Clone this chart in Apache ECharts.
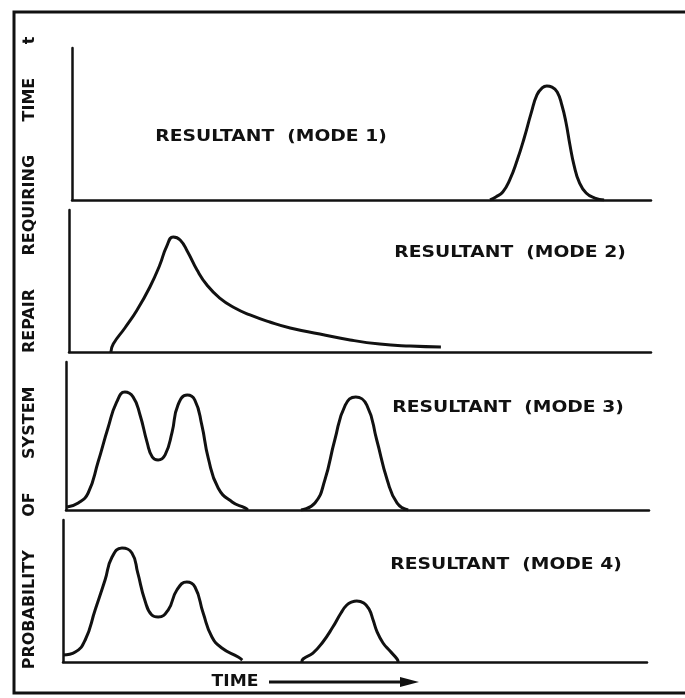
<!DOCTYPE html>
<html>
<head>
<meta charset="utf-8">
<script src="https://cdn.jsdelivr.net/npm/echarts@6/dist/echarts.min.js"></script>
<style>
  html, body { margin: 0; padding: 0; background: #fff; }
  #chart { width: 685px; height: 698px; }
</style>
</head>
<body>
<div id="chart"></div>
<script>
// values: [time, probability], time 0-100 along each panel, probability 0-100 of panel height
const mode1 = [[72.2, 0], [73.2, 2.0], [74.4, 5.3], [75.6, 13.2], [76.9, 26.3], [78.1, 40.8], [79.3, 57.2],
  [80.3, 69.1], [81.2, 73.7], [82.0, 75.0], [82.9, 74.3], [83.8, 71.1], [84.6, 62.5], [85.3, 51.3],
  [86.0, 36.2], [86.7, 23.0], [87.6, 11.8], [88.8, 4.6], [90.3, 1.3], [91.9, 0]]

const mode2 = [[7.2, 0], [7.6, 5.6], [9.6, 16.9], [11.7, 29.6], [13.9, 45.8], [15.6, 61.3], [16.8, 74.6],
  [17.9, 81.0], [19.1, 78.9], [20.4, 70.4], [22.0, 57.7], [23.7, 47.2], [25.9, 38.0], [28.5, 31.0],
  [31.1, 26.1], [34.5, 21.1], [38.0, 16.9], [43.1, 12.7], [48.3, 8.5], [53.4, 5.6], [58.6, 4.2], [63.9, 3.5]]

const mode3 = [[0.2, 2.0], [2.1, 4.7], [3.8, 11.5], [5.5, 32.4], [7.2, 55.4], [8.7, 73.0], [10.1, 79.7], [11.5, 76.4],
  [12.7, 64.2], [13.9, 45.9], [14.8, 35.8], [15.8, 33.8], [17.0, 37.2], [18.2, 52.7], [19.2, 70.9], [20.8, 77.7],
  [22.1, 74.3], [23.3, 57.4], [24.4, 35.1], [26.1, 14.9], [28.5, 5.4], [30.7, 1.4], [31.2, 0],
  null,
  [40.3, 0], [42.7, 4.7], [44.4, 20.3], [46.1, 47.3], [47.9, 70.9], [49.7, 76.4], [51.6, 70.9], [53.3, 47.3],
  [55.1, 20.3], [56.8, 4.7], [58.7, 0]]

const mode4 = [[0, 4.9], [2.1, 7.0], [3.8, 15.5], [5.5, 36.6], [7.2, 57.7], [8.4, 73.9], [10.1, 80.3], [11.8, 76.8],
  [12.8, 62.7], [14.0, 43.7], [15.2, 33.1], [16.3, 31.7], [18.0, 36.6], [19.5, 50.7], [21.2, 56.3], [22.6, 52.8],
  [24.0, 34.5], [25.5, 17.6], [27.2, 9.9], [30.0, 3.5], [30.7, 1.4],
  null,
  [40.9, 0], [41.1, 2.1], [42.8, 6.3], [44.5, 14.1], [46.2, 24.6], [47.6, 34.5], [48.6, 40.1], [49.5, 42.3],
  [50.3, 43.0], [51.5, 41.5], [52.4, 37.3], [53.1, 29.6], [53.8, 21.1], [54.8, 13.4], [56.0, 7.7], [57.2, 2.1], [57.4, 0]]

const modeNames = ['RESULTANT  (MODE 1)', 'RESULTANT  (MODE 2)', 'RESULTANT  (MODE 3)', 'RESULTANT  (MODE 4)']
const yTitle = 'PROBABILITY      OF      SYSTEM      REPAIR      REQUIRING      TIME      t'
const xTitle = 'TIME'

const ink = '#111'
const font = 'DejaVu Sans'

// panel boxes (px) - the scan is a little skewed so each panel sits slightly differently
const grids = [
  { left: 72, right: 34, top: 48, bottom: 498 },
  { left: 69, right: 34, top: 210, bottom: 346 },
  { left: 66, right: 36, top: 362, bottom: 188 },
  { left: 63, right: 38, top: 520, bottom: 36 }
]
const labelPos = [[271, 137], [510, 253], [508, 408], [506, 565]]

const chart = echarts.init(document.getElementById('chart'))

const axisStyle = { show: true, lineStyle: { color: ink, width: 2.5 } }
const plainAxis = (i) => ({
  type: 'value', gridIndex: i, min: 0, max: 100,
  axisLine: axisStyle, axisTick: { show: false }, axisLabel: { show: false }, splitLine: { show: false }
})

const option = {
  backgroundColor: '#fff',
  animation: false,
  grid: grids,
  xAxis: grids.map((g, i) => plainAxis(i)),
  yAxis: grids.map((g, i) => plainAxis(i)),
  series: [mode1, mode2, mode3, mode4].map((d, i) => ({
    type: 'line',
    xAxisIndex: i,
    yAxisIndex: i,
    data: d,
    smooth: 0.5,
    symbol: 'none',
    connectNulls: false,
    lineStyle: { color: ink, width: 3 }
  })),
  graphic: [
    // outer frame
    { type: 'rect', shape: { x: 14, y: 12, width: 700, height: 681 }, style: { fill: null, stroke: ink, lineWidth: 3 } },
    // panel captions
    ...modeNames.map((t, i) => ({
      type: 'text', x: labelPos[i][0], y: labelPos[i][1], scaleX: 1.17,
      style: { text: t, font: 'bold 16px ' + font, fill: ink, align: 'center', verticalAlign: 'middle' }
    })),
    // vertical title
    {
      type: 'text', x: 30, y: 353, rotation: Math.PI / 2,
      style: { text: yTitle, font: 'bold 16px ' + font, fill: ink, align: 'center', verticalAlign: 'middle' }
    },
    // time arrow
    {
      type: 'text', x: 235, y: 682, scaleX: 1.07,
      style: { text: xTitle, font: 'bold 16px ' + font, fill: ink, align: 'center', verticalAlign: 'middle' }
    },
    { type: 'line', shape: { x1: 269, y1: 682, x2: 404, y2: 682 }, style: { stroke: ink, lineWidth: 3 } },
    { type: 'polygon', shape: { points: [[400, 677], [419, 682], [400, 687]] }, style: { fill: ink } }
  ]
}

chart.setOption(option)
</script>
</body>
</html>
